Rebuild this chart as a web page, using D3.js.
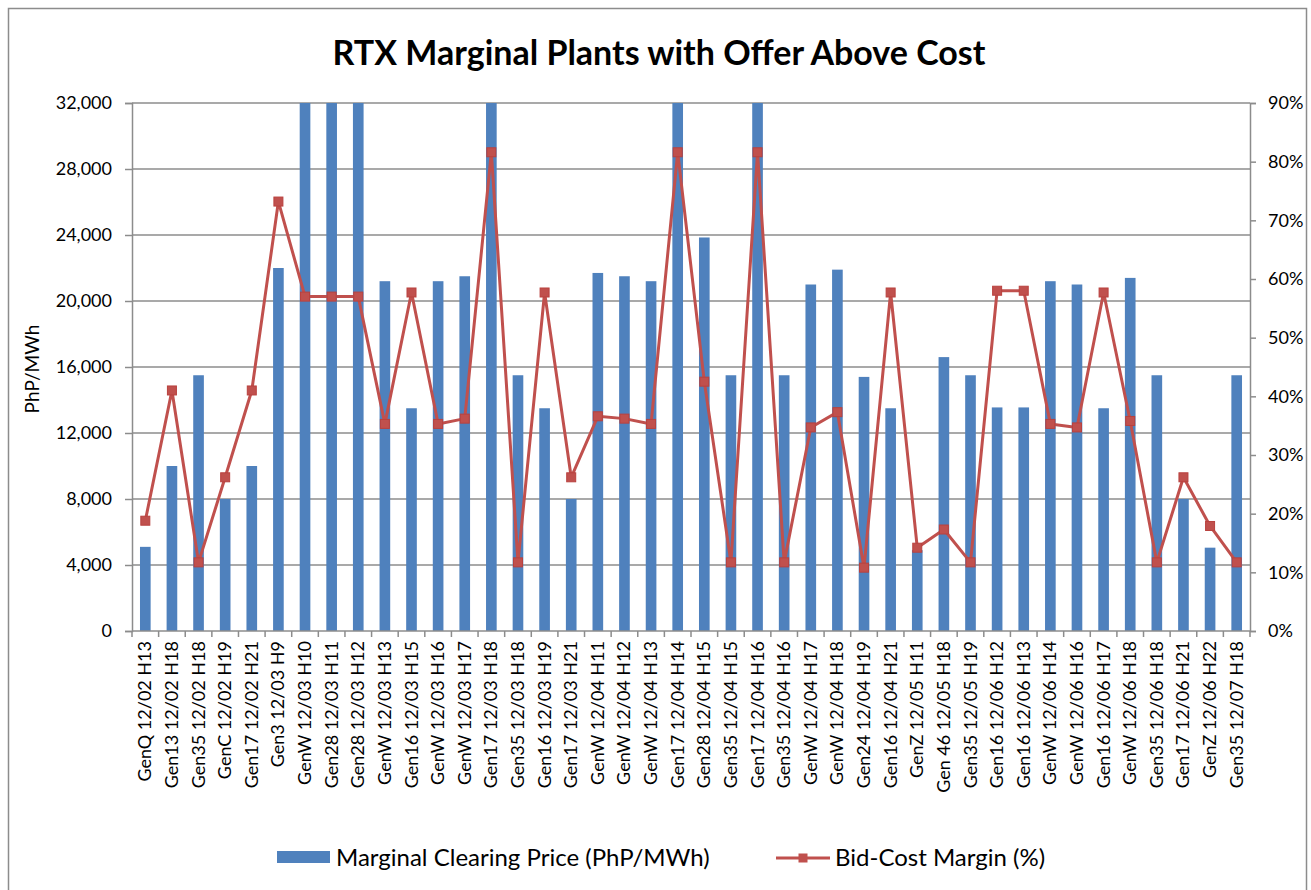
<!DOCTYPE html>
<html>
<head>
<meta charset="utf-8">
<script src="https://cdn.jsdelivr.net/npm/d3@7"></script>
<style>
  html, body { margin: 0; padding: 0; background: #fff; }
  svg { display: block; }
  text { font-family: Lato, "Open Sans", sans-serif; fill: #000; }
</style>
</head>
<body>
<svg id="chart" width="1311" height="890"></svg>
<script>
const categories = [
  "GenQ 12/02 H13", "Gen13 12/02 H18", "Gen35 12/02 H18", "GenC 12/02 H19", "Gen17 12/02 H21",
  "Gen3 12/03 H9", "GenW 12/03 H10", "Gen28 12/03 H11", "Gen28 12/03 H12", "GenW 12/03 H13",
  "Gen16 12/03 H15", "GenW 12/03 H16", "GenW 12/03 H17", "Gen17 12/03 H18", "Gen35 12/03 H18",
  "Gen16 12/03 H19", "Gen17 12/03 H21", "GenW 12/04 H11", "GenW 12/04 H12", "GenW 12/04 H13",
  "Gen17 12/04 H14", "Gen28 12/04 H15", "Gen35 12/04 H15", "Gen17 12/04 H16", "Gen35 12/04 H16",
  "GenW 12/04 H17", "GenW 12/04 H18", "Gen24 12/04 H19", "Gen16 12/04 H21", "GenZ 12/05 H11",
  "Gen 46 12/05 H18", "Gen35 12/05 H19", "Gen16 12/06 H12", "Gen16 12/06 H13", "GenW 12/06 H14",
  "GenW 12/06 H16", "Gen16 12/06 H17", "GenW 12/06 H18", "Gen35 12/06 H18", "Gen17 12/06 H21",
  "GenZ 12/06 H22", "Gen35 12/07 H18"
];
// Marginal Clearing Price (PhP/MWh); bars reaching 32,000 run off the top of the axis
const clearingPrice = [
  5100, 10000, 15500, 8000, 10000,
  22000, 32000, 32000, 32000, 21200,
  13500, 21200, 21500, 32000, 15500,
  13500, 8000, 21700, 21500, 21200,
  32000, 23850, 15500, 32000, 15500,
  21000, 21900, 15400, 13500, 4900,
  16600, 15500, 13550, 13550, 21200,
  21000, 13500, 21400, 15500, 8000,
  5050, 15500
];
// Bid-Cost Margin (%)
const bidCostMargin = [
  18.8, 41.0, 11.7, 26.2, 41.0,
  73.2, 57.0, 57.0, 57.0, 35.3,
  57.7, 35.3, 36.2, 81.6, 11.7,
  57.7, 26.2, 36.6, 36.2, 35.3,
  81.6, 42.5, 11.7, 81.6, 11.7,
  34.7, 37.3, 10.8, 57.7, 14.2,
  17.3, 11.7, 58.0, 58.0, 35.3,
  34.7, 57.7, 35.8, 11.7, 26.2,
  17.9, 11.7
];
const leftTicks = [0, 4000, 8000, 12000, 16000, 20000, 24000, 28000, 32000];
const rightTicks = [0, 10, 20, 30, 40, 50, 60, 70, 80, 90];
const titleText = "RTX Marginal Plants with Offer Above Cost";
const yTitle = "PhP/MWh";
const seriesNames = ["Marginal Clearing Price (PhP/MWh)", "Bid-Cost Margin (%)"];

const svg = d3.select("#chart");
const m = { left: 132, right: 1250, top: 103, bottom: 631 };
const BLUE = "#4F81BD", RED = "#C0504D", GRID = "#8c8c8c", AXIS = "#8c8c8c";
const TICKFONT = 18;

// outer border
svg.append("rect").attr("x", 8.5).attr("y", 8.5).attr("width", 1298).attr("height", 900)
  .attr("fill", "#fff").attr("stroke", "#8c8c8c").attr("stroke-width", 1.5);

// title
svg.append("text").attr("x", 659).attr("y", 65).attr("text-anchor", "middle")
  .attr("font-size", 34).attr("font-weight", 700).text(titleText);

const x = d3.scaleBand().domain(categories).range([m.left, m.right]).paddingInner(0.6).paddingOuter(0.3);
const xStep = (m.right - m.left) / categories.length;
const yL = d3.scaleLinear().domain([0, 32000]).range([m.bottom, m.top]);
const yR = d3.scaleLinear().domain([0, 90]).range([m.bottom, m.top]);

// gridlines
svg.append("g").selectAll("line").data(leftTicks.filter(d => d > 0)).join("line")
  .attr("x1", m.left).attr("x2", m.right)
  .attr("y1", d => yL(d)).attr("y2", d => yL(d))
  .attr("stroke", GRID).attr("stroke-width", 1.5);

// bars
svg.append("g").selectAll("rect").data(categories).join("rect")
  .attr("x", (d) => x(d))
  .attr("width", x.bandwidth())
  .attr("y", (d, i) => yL(Math.min(clearingPrice[i], 32000)))
  .attr("height", (d, i) => yL(0) - yL(Math.min(clearingPrice[i], 32000)))
  .attr("fill", BLUE);

// left axis
const gL = svg.append("g").attr("transform", `translate(${m.left},0)`)
  .call(d3.axisLeft(yL).tickValues(leftTicks).tickFormat(d3.format(",")).tickSize(7).tickPadding(13));
gL.select(".domain").attr("stroke", AXIS).attr("stroke-width", 1.5);
gL.selectAll(".tick line").attr("stroke", AXIS).attr("stroke-width", 1.5);
gL.selectAll("text").attr("font-size", TICKFONT).attr("fill", "#000").style("font-family", "Lato, sans-serif");

// right axis
const gR = svg.append("g").attr("transform", `translate(${m.right},0)`)
  .call(d3.axisRight(yR).tickValues(rightTicks).tickFormat(d => d + "%").tickSize(6).tickPadding(12));
gR.select(".domain").attr("stroke", AXIS).attr("stroke-width", 1.5);
gR.selectAll(".tick line").attr("stroke", AXIS).attr("stroke-width", 1.5);
gR.selectAll("text").attr("font-size", TICKFONT).attr("fill", "#000").style("font-family", "Lato, sans-serif");

// bottom axis
const gB = svg.append("g").attr("transform", `translate(0,${m.bottom})`);
gB.append("line").attr("x1", m.left).attr("x2", m.right).attr("y1", 0).attr("y2", 0)
  .attr("stroke", AXIS).attr("stroke-width", 1.5);
gB.selectAll("line.tk").data(d3.range(categories.length + 1)).join("line").attr("class", "tk")
  .attr("x1", i => m.left + i * xStep).attr("x2", i => m.left + i * xStep)
  .attr("y1", 0).attr("y2", 6).attr("stroke", AXIS).attr("stroke-width", 1.5);
gB.selectAll("text").data(categories).join("text")
  .attr("transform", d => `translate(${x(d) + x.bandwidth() / 2 + 6},10) rotate(-90)`)
  .attr("text-anchor", "end").attr("font-size", TICKFONT).text(d => d);

// line series
const line = d3.line().x((d, i) => x(categories[i]) + x.bandwidth() / 2).y(d => yR(d));
svg.append("path").datum(bidCostMargin).attr("d", line)
  .attr("fill", "none").attr("stroke", RED).attr("stroke-width", 3).attr("stroke-linejoin", "round");
svg.append("g").selectAll("rect").data(bidCostMargin).join("rect")
  .attr("x", (d, i) => x(categories[i]) + x.bandwidth() / 2 - 4.5)
  .attr("y", d => yR(d) - 4.5)
  .attr("width", 9).attr("height", 9)
  .attr("fill", RED).attr("stroke", "#b9413e").attr("stroke-width", 1);

// y title
svg.append("text").attr("transform", "translate(39,369) rotate(-90)")
  .attr("text-anchor", "middle").attr("font-size", 19).text(yTitle);

// legend
const lg = svg.append("g");
lg.append("rect").attr("x", 277).attr("y", 851).attr("width", 53).attr("height", 12).attr("fill", BLUE);
lg.append("text").attr("x", 336).attr("y", 866).attr("font-size", 24).text(seriesNames[0]);
lg.append("line").attr("x1", 776).attr("x2", 830).attr("y1", 858).attr("y2", 858)
  .attr("stroke", RED).attr("stroke-width", 3);
lg.append("rect").attr("x", 798.5).attr("y", 853.5).attr("width", 9).attr("height", 9).attr("fill", RED);
lg.append("text").attr("x", 835).attr("y", 866).attr("font-size", 24).text(seriesNames[1]);
</script>
</body>
</html>
